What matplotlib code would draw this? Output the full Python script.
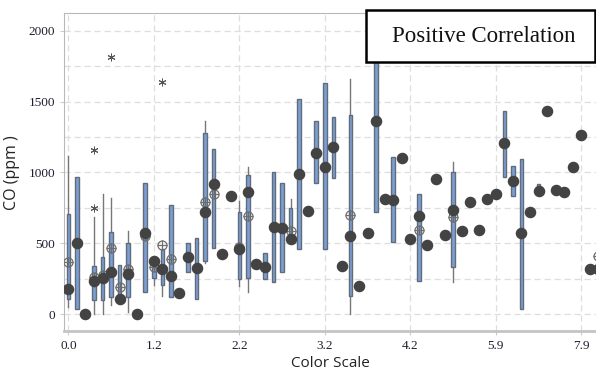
import matplotlib
matplotlib.use("Agg")
import matplotlib.pyplot as plt
from matplotlib.patches import Rectangle

# one entry per colour-scale group (63 groups, only every 10th is labelled)
tick_pos = [0, 10, 20, 30, 40, 50, 60]
tick_labels = ['0.0', '1.2', '2.2', '3.2', '4.2', '5.9', '7.9']

# filled dot per group (ppm)
dot_vals = [174, 499, 0, 230, 254, 299, 108, 280, 0, 569,
            376, 315, 271, 146, 400, 322, 720, 920, 424, 833,
            456, 864, 353, 334, 614, 605, 527, 991, 727, 1139,
            1040, 1181, 339, 553, 198, 569, 1362, 809, 805, 1101,
            529, 694, 489, 951, 558, 734, 586, 791, 593, 812,
            847, 1205, 941, 569, 720, 868, 1435, 875, 861, 1040,
            1266, 315, 315]

N = None
# box bottom / top (Q1, Q3)
box_q1 = [104, 35, N, 99, 100, 118, 125, 122, N, 158,
          254, 205, 118, N, 294, 106, 376, 464, N, N,
          245, 256, N, 249, 226, 294, 530, 456, N, 927,
          456, 958, N, 127, N, N, 720, N, 506, N,
          N, 235, N, N, N, 329, N, N, N, N,
          N, 969, 833, 35, N, 856, N, N, N, N,
          N, N, N]
box_q3 = [706, 969, N, 339, 400, 576, 344, 499, N, 927,
          332, 459, 769, N, 499, 534, 1275, 1167, N, N,
          720, 979, N, 433, 1000, 927, 745, 1515, N, 1362,
          1628, 1393, N, 1402, N, N, 1950, N, 1111, N,
          N, 845, N, N, N, 1000, N, N, N, N,
          N, 1435, 1045, 1092, N, 918, N, N, N, N,
          N, N, N]
# whisker ends
whisk_lo = [52, N, N, 0, 0, 64, N, 16, N, N,
            208, 129, N, N, N, N, 358, N, N, N,
            195, 158, N, N, N, N, N, N, N, N,
            N, N, N, 0, N, N, N, N, N, N,
            N, N, N, N, N, 224, N, N, N, N,
            N, N, N, N, N, N, N, N, N, N,
            N, N, N]
whisk_hi = [1118, N, N, 685, 848, 821, N, 588, N, N,
            N, N, N, N, N, N, 1362, N, N, N,
            800, 1035, N, N, N, N, 810, N, N, N,
            N, N, N, 1661, N, N, N, N, N, N,
            N, N, N, N, N, 1071, N, N, N, N,
            N, N, N, N, N, N, N, N, N, N,
            N, N, N]
# mean symbol (crossed circle)
mean_vals = [365, N, N, 263, 273, 466, 188, 320, N, 551,
             334, 485, 388, N, N, N, 791, 849, N, N,
             472, 694, N, N, N, N, 583, N, N, N,
             N, N, N, 696, N, N, N, N, N, N,
             N, 593, N, N, N, 687, N, N, N, N,
             N, N, N, N, N, N, N, N, N, N,
             N, N, 410]
# outliers (asterisks)
out_group = [3, 3, 5, 11]
out_vals = [748, 1158, 1816, 1640]

plt.figure(figsize=(5.96, 3.78), dpi=100)
ax = plt.axes([64.3 / 596, 47 / 378, 1 - 64.3 / 596, (331 - 13.3) / 378])

box_w = 0.42
for i in range(len(dot_vals)):
    q1, q3 = box_q1[i], box_q3[i]
    lo, hi = whisk_lo[i], whisk_hi[i]
    if lo is not None:
        ax.plot([i, i], [lo, q1 if q1 is not None else q3], color='#777777', lw=1, zorder=2)
    if hi is not None:
        ax.plot([i, i], [q3 if q3 is not None else q1, hi], color='#777777', lw=1, zorder=2)
    if q1 is not None:
        ax.add_patch(Rectangle((i - box_w / 2, q1), box_w, q3 - q1,
                               facecolor='#7b9fd4', edgecolor='#616b7a', lw=1, zorder=3))

mx = [i for i, m in enumerate(mean_vals) if m is not None]
my = [m for m in mean_vals if m is not None]
ax.plot(mx, my, linestyle='none', marker='o', markersize=6.5, markerfacecolor='none',
        markeredgecolor='#6e6e6e', markeredgewidth=0.9, zorder=4)
ax.plot(mx, my, linestyle='none', marker='+', markersize=6.5,
        markeredgecolor='#6e6e6e', markeredgewidth=0.9, zorder=4)

ax.plot(range(len(dot_vals)), dot_vals, linestyle='none', marker='o', markersize=7.3,
        color='#434343', zorder=5)

# asterisk outliers
ax.plot(out_group, out_vals, linestyle='none', marker=(6, 2, 0), markersize=5.5,
        markeredgecolor='#555555', markeredgewidth=0.7, zorder=5)

ax.set_xlim(-0.47, 61.72)
ax.set_ylim(-120, 2123)

ax.set_yticks([0, 500, 1000, 1500, 2000])
ax.set_yticks(range(0, 2001, 250), minor=True)
ax.set_xticks(tick_pos)
ax.set_xticklabels(tick_labels)
for lab in ax.get_xticklabels() + ax.get_yticklabels():
    lab.set_fontfamily('Liberation Serif')
    lab.set_fontsize(9.5)
    lab.set_color('#1e1e30')
ax.tick_params(axis='both', which='both', length=3, color='#cccccc')
ax.tick_params(axis='y', which='minor', length=0)

ax.grid(True, which='both', axis='y', linestyle=(0, (5, 3)), color='#dedede', lw=0.9, zorder=0)
ax.grid(True, which='major', axis='x', linestyle=(0, (5, 3)), color='#dedede', lw=0.9, zorder=0)
ax.set_axisbelow(True)

ax.spines['right'].set_visible(False)
ax.spines['top'].set_color('#b8b8b8')
ax.spines['left'].set_color('#b8b8b8')
ax.spines['bottom'].set_color('#c4c4c4')
ax.spines['bottom'].set_linewidth(2)

ax.set_xlabel('Color Scale', fontfamily='Open Sans', fontsize=11, color='#222222', labelpad=3)
ax.set_ylabel('CO (ppm )', fontfamily='Open Sans', fontsize=11.5, color='#222222', labelpad=6)

fig = plt.gcf()
fig.add_artist(Rectangle((365.7 / 596, (378 - 62.3) / 378), (595 - 365.7) / 596, 52 / 378,
                         transform=fig.transFigure, facecolor='white', edgecolor='black', lw=1.8))
fig.text(484 / 596, (378 - 37) / 378, 'Positive Correlation', fontfamily='Liberation Serif',
         fontsize=16.5, ha='center', va='center', color='#111111')

plt.savefig('out.png', dpi=100)
